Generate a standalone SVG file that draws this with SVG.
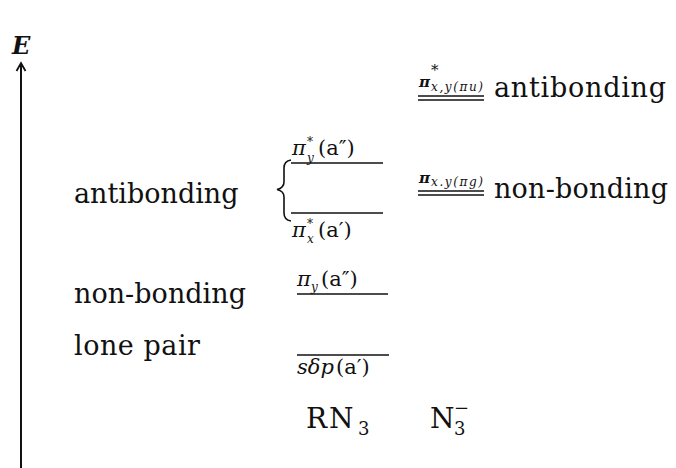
<svg xmlns="http://www.w3.org/2000/svg" width="676" height="468" viewBox="0 0 676 468">
<style>
text{font-family:"DejaVu Serif","Liberation Serif",serif;fill:#111}
.big{font-size:27px}
.lab{font-size:21px}
.sm{font-size:12px}
.it{font-style:italic}
.lvl{stroke:#111;stroke-width:1.6;fill:none}
.dbl{stroke:#111;stroke-width:1.4;fill:none}
</style>
<rect width="676" height="468" fill="#fff"/>
<g id="axis">
<line x1="21" y1="64" x2="21" y2="468" stroke="#111" stroke-width="2"/>
<path d="M16.5 71 L21 63 L25.5 71" stroke="#111" stroke-width="1.8" fill="none"/>
<text x="12" y="54" font-size="24" font-style="italic" font-weight="bold">E</text>
</g>
<g id="left-labels">
<text class="big" x="74" y="203">antibonding</text>
<text class="big" x="74" y="303" textLength="172">non-bonding</text>
<text class="big" x="74" y="355" textLength="126">lone pair</text>
</g>
<g id="rn3-levels">
<path class="lvl" d="M291 160 Q284 161 284 168 L284 182 Q284 188 277 189.5 Q284 191 284 197 L284 213 Q284 220 291 221" stroke-width="1.4"/>
<line class="lvl" x1="291" y1="163" x2="383" y2="163"/>
<line class="lvl" x1="291" y1="213" x2="383" y2="213"/>
<line class="lvl" x1="297" y1="294" x2="388" y2="294"/>
<line class="lvl" x1="297" y1="355" x2="389" y2="355"/>
<g id="lab-piy-star">
<text class="lab it" x="292" y="155">π</text>
<text class="sm" x="307" y="146">*</text>
<text class="sm it" x="307" y="162">y</text>
<text class="lab" x="318" y="155">(a″)</text>
</g>
<g id="lab-pix-star">
<text class="lab it" x="292" y="237">π</text>
<text class="sm" x="307" y="228">*</text>
<text class="sm it" x="307" y="243">x</text>
<text class="lab" x="318" y="237">(a′)</text>
</g>
<g id="lab-piy">
<text class="lab it" x="297" y="286">π</text>
<text class="sm it" x="311" y="291">y</text>
<text class="lab" x="321" y="286">(a″)</text>
</g>
<g id="lab-sdp">
<text class="lab it" x="297" y="374">sδp</text>
<text class="lab" x="336" y="374">(a′)</text>
</g>
</g>
<g id="n3-levels">
<line class="dbl" x1="418" y1="96" x2="484" y2="96"/>
<line class="dbl" x1="418" y1="100" x2="484" y2="100"/>
<text x="419" y="87" font-size="15" font-style="italic" font-weight="bold">π</text>
<text x="431" y="75" font-size="15">*</text>
<text x="431" y="91" font-size="12" font-style="italic" textLength="52">x,y(πu)</text>
<text class="big" x="494" y="97" textLength="172">antibonding</text>
<line class="dbl" x1="418" y1="191" x2="484" y2="191"/>
<line class="dbl" x1="418" y1="195" x2="484" y2="195"/>
<text x="419" y="183" font-size="15" font-style="italic" font-weight="bold">π</text>
<text x="431" y="186" font-size="12" font-style="italic" textLength="52">x.y(πg)</text>
<text class="big" x="494" y="198" textLength="174">non-bonding</text>
</g>
<g id="species">
<text x="306" y="428" font-size="28" letter-spacing="2">RN</text>
<text x="358" y="435" font-size="18">3</text>
<text x="430" y="428" font-size="28">N</text>
<text x="454" y="435" font-size="18">3</text>
<text x="454" y="414" font-size="18">−</text>
</g>
</svg>
